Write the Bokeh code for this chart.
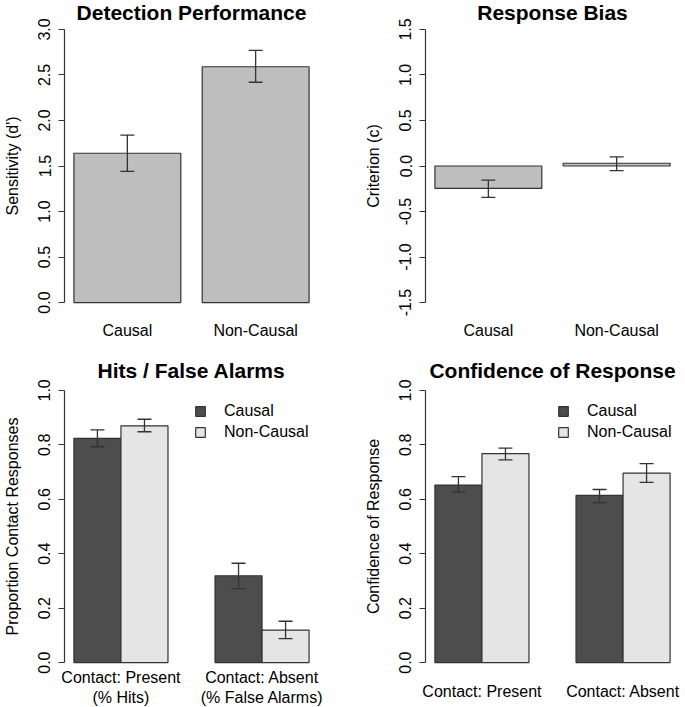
from bokeh.plotting import figure
from bokeh.models import (FactorRange, ColumnDataSource, Whisker, TeeHead, FixedTicker,
                          NumeralTickFormatter, Legend, LegendItem, Range1d, Title)
from bokeh.layouts import column, row
from bokeh.transform import dodge
from bokeh.embed import file_html
from bokeh.resources import INLINE

# ---------------- data ----------------
groups = ["Causal", "Non-Causal"]

dp_values = [1.64, 2.59]
dp_lower = [1.44, 2.42]
dp_upper = [1.84, 2.77]
dp_ticks = [0.0, 0.5, 1.0, 1.5, 2.0, 2.5, 3.0]

rb_values = [-0.245, 0.03]
rb_lower = [-0.345, -0.05]
rb_upper = [-0.155, 0.10]
rb_ticks = [-1.5, -1.0, -0.5, 0.0, 0.5, 1.0, 1.5]

hfa_conditions = ["Contact: Present\n(% Hits)", "Contact: Absent\n(% False Alarms)"]
hfa_causal = [0.824, 0.319]
hfa_causal_lower = [0.793, 0.272]
hfa_causal_upper = [0.855, 0.365]
hfa_noncausal = [0.870, 0.119]
hfa_noncausal_lower = [0.848, 0.088]
hfa_noncausal_upper = [0.894, 0.152]

conf_conditions = ["Contact: Present", "Contact: Absent"]
conf_causal = [0.652, 0.614]
conf_causal_lower = [0.626, 0.588]
conf_causal_upper = [0.683, 0.636]
conf_noncausal = [0.768, 0.696]
conf_noncausal_lower = [0.745, 0.662]
conf_noncausal_upper = [0.788, 0.731]

prop_ticks = [0.0, 0.2, 0.4, 0.6, 0.8, 1.0]

# ---------------- style ----------------
FONT = "Liberation Sans"
TXT = "#000000"
LINE = "#333333"
GRAY = "#BEBEBE"
DARK = "#4D4D4D"
LIGHT = "#E5E5E5"
FW = 254
FH_TOP = 295
FH_BOT = 294


def make_fig(x_range, y_range, fh, left, right, top, bottom, title, title_standoff):
    t = Title(text=title, align="center", text_font=FONT, text_font_size="21px",
              text_font_style="bold", text_color=TXT, standoff=title_standoff)
    p = figure(x_range=x_range, y_range=y_range, frame_width=FW, frame_height=fh,
               min_border_left=left, min_border_right=right,
               min_border_top=top, min_border_bottom=bottom, title=t,
               toolbar_location=None, output_backend="svg", tools="")
    p.outline_line_color = None
    p.xgrid.visible = False
    p.ygrid.visible = False
    p.background_fill_color = "white"
    p.border_fill_color = "white"
    return p


def style_y(p, ticks, label):
    ax = p.yaxis[0]
    ax.ticker = FixedTicker(ticks=ticks)
    ax.bounds = (ticks[0], ticks[-1])
    ax.formatter = NumeralTickFormatter(format="0.0")
    ax.major_label_orientation = "parallel"
    ax.major_label_text_font = FONT
    ax.major_label_text_font_size = "16px"
    ax.major_label_text_color = TXT
    ax.major_label_standoff = 8
    ax.major_tick_out = 6
    ax.major_tick_in = 0
    ax.minor_tick_line_color = None
    ax.axis_line_color = LINE
    ax.major_tick_line_color = LINE
    ax.axis_line_width = 1.2
    ax.major_tick_line_width = 1.2
    ax.axis_label = label
    ax.axis_label_text_font = FONT
    ax.axis_label_text_font_size = "16px"
    ax.axis_label_text_font_style = "normal"
    ax.axis_label_text_color = TXT
    ax.axis_label_standoff = 15


def style_x(p, standoff):
    ax = p.xaxis[0]
    ax.axis_line_color = None
    ax.major_tick_line_color = None
    ax.minor_tick_line_color = None
    ax.major_tick_out = 0
    ax.major_tick_in = 0
    ax.major_label_text_font = FONT
    ax.major_label_text_font_size = "16px"
    ax.major_label_text_color = TXT
    ax.major_label_standoff = standoff


def whisker(p, src, base, up, lo):
    w = Whisker(base=base, upper=up, lower=lo, source=src, level="annotation",
                line_color=LINE, line_width=1.3,
                upper_head=TeeHead(size=14, line_color=LINE, line_width=1.3),
                lower_head=TeeHead(size=14, line_color=LINE, line_width=1.3))
    p.add_layout(w)


def single_panel(values, lower, upper, ticks, ylabel, title, left, right):
    src = ColumnDataSource(dict(g=groups, v=values, lo=lower, up=upper))
    xr = FactorRange(factors=groups, factor_padding=0.2, range_padding=0.088,
                     range_padding_units="absolute")
    pad = (ticks[-1] - ticks[0]) * 0.04
    yr = Range1d(ticks[0] - pad, ticks[-1] + pad)
    p = make_fig(xr, yr, FH_TOP, left, right, 18, 27, title, -10)
    p.vbar(x="g", top="v", bottom=0, width=1.0, source=src,
           fill_color=GRAY, line_color=LINE, line_width=1.2)
    whisker(p, src, "g", "up", "lo")
    style_y(p, ticks, ylabel)
    style_x(p, 8)
    return p


def grouped_panel(conds, c, clo, cup, n, nlo, nup, ylabel, title, left, right,
                  xstandoff, legx):
    src = ColumnDataSource(dict(cond=conds, c=c, clo=clo, cup=cup, n=n, nlo=nlo, nup=nup))
    xr = FactorRange(factors=conds, factor_padding=0.5, range_padding=0.1,
                     range_padding_units="absolute")
    yr = Range1d(-0.04, 1.04)
    p = make_fig(xr, yr, FH_BOT, left, right, 38, 34, title, -4)
    r1 = p.vbar(x=dodge("cond", -0.25, range=xr), top="c", bottom=0, width=0.5, source=src,
                fill_color=DARK, line_color=LINE, line_width=1.2)
    r2 = p.vbar(x=dodge("cond", 0.25, range=xr), top="n", bottom=0, width=0.5, source=src,
                fill_color=LIGHT, line_color=LINE, line_width=1.2)
    whisker(p, src, dodge("cond", -0.25, range=xr), "cup", "clo")
    whisker(p, src, dodge("cond", 0.25, range=xr), "nup", "nlo")
    style_y(p, prop_ticks, ylabel)
    style_x(p, xstandoff)
    leg = Legend(items=[LegendItem(label=groups[0], renderers=[r1]),
                        LegendItem(label=groups[1], renderers=[r2])],
                 location=(legx, FH_BOT - 62), border_line_color=None,
                 background_fill_alpha=0, padding=0, margin=0,
                 glyph_width=12, glyph_height=12, label_standoff=18,
                 label_height=18, spacing=3,
                 label_text_font=FONT, label_text_font_size="16px", label_text_color=TXT)
    p.add_layout(leg)
    return p


p1 = single_panel(dp_values, dp_lower, dp_upper, dp_ticks, "Sensitivity (d')",
                  "Detection Performance", 64, 20)
p2 = single_panel(rb_values, rb_lower, rb_upper, rb_ticks, "Criterion (c)",
                  "Response Bias", 87, 6)
p3 = grouped_panel(hfa_conditions, hfa_causal, hfa_causal_lower, hfa_causal_upper,
                   hfa_noncausal, hfa_noncausal_lower, hfa_noncausal_upper,
                   "Proportion Contact Responses", "Hits / False Alarms", 64, 20, -5, 130)
p4 = grouped_panel(conf_conditions, conf_causal, conf_causal_lower, conf_causal_upper,
                   conf_noncausal, conf_noncausal_lower, conf_noncausal_upper,
                   "Confidence of Response", "Confidence of Response", 87, 6, 9, 132)

layout = column(row(p1, p2), row(p3, p4))
open("out.html", "w").write(file_html(layout, INLINE))
